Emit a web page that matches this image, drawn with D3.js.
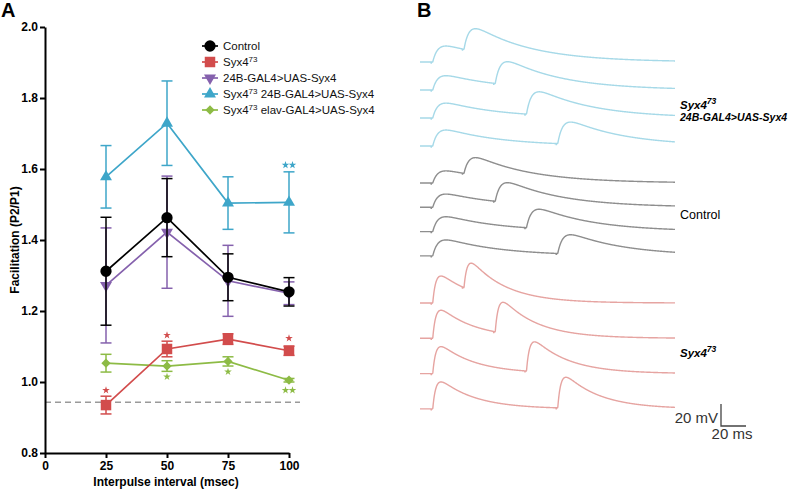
<!DOCTYPE html>
<html><head><meta charset="utf-8">
<script src="https://cdn.jsdelivr.net/npm/d3@7"></script>
<style>body{margin:0;background:#fff}svg{display:block;font-family:"Liberation Sans",Arial,sans-serif}</style>
</head><body><svg id="c" width="800" height="489"></svg>
<script>
// ---------- Panel A data ----------
const intervals = [25, 50, 75, 100];
const controlMean = [1.312, 1.463, 1.295, 1.254];
const controlErr  = [0.152, 0.110, 0.066, 0.040];
const syx4Mean    = [0.935, 1.093, 1.121, 1.088];
const syx4Err     = [0.025, 0.022, 0.015, 0.013];
const uasMean     = [1.272, 1.422, 1.285, 1.250];
const uasErr      = [0.162, 0.158, 0.100, 0.032];
const rescue24BMean = [1.578, 1.729, 1.504, 1.506];
const rescue24BErr  = [0.088, 0.119, 0.074, 0.086];
const rescueElavMean = [1.053, 1.045, 1.058, 1.005];
const rescueElavErr  = [0.025, 0.015, 0.013, 0.005];
const yTicks = [0.8, 1.0, 1.2, 1.4, 1.6, 1.8, 2.0];
const xTicks = [0, 25, 50, 75, 100];
const refLine = 0.943;
// significance marks: series index, interval, number of stars, value position
const sigSeries = [1, 1, 1, 4, 4, 4, 3];
const sigX      = [25, 50, 100, 50, 75, 100, 100];
const sigCount  = [1, 1, 1, 1, 1, 2, 2];
const sigY      = [0.977, 1.132, 1.123, 1.015, 1.029, 0.977, 1.611];

// ---------- Panel B data (EPSP amplitudes, mV) ----------
const traceIntervals = [25, 50, 75, 100];
const rescueP1 = [14.5, 13, 13.5, 14.5];
const rescueP2 = [21, 21, 21, 20];
const controlP1 = [11, 12, 13.5, 14.5];
const controlP2 = [16, 18, 17.5, 17.5];
const mutantP1 = [24.5, 25.5, 24.5, 24.5];
const mutantP2 = [25, 28, 27, 28];

const svg = d3.select("#c");

// ---------- Panel A ----------
const x = d3.scaleLinear().domain([0, 100]).range([45, 289]);
const y = d3.scaleLinear().domain([0.8, 2.0]).range([453, 27]);

const series = [
  {name: "Control", mean: controlMean, err: controlErr, color: "#000000", sym: "circle"},
  {name: "Syx4", sup: "73", rest: "", mean: syx4Mean, err: syx4Err, color: "#d24c4c", sym: "square"},
  {name: "24B-GAL4>UAS-Syx4", mean: uasMean, err: uasErr, color: "#8561ad", sym: "down"},
  {name: "Syx4", sup: "73", rest: " 24B-GAL4>UAS-Syx4", mean: rescue24BMean, err: rescue24BErr, color: "#3ea6c9", sym: "up"},
  {name: "Syx4", sup: "73", rest: " elav-GAL4>UAS-Syx4", mean: rescueElavMean, err: rescueElavErr, color: "#8dbb45", sym: "diamond"}
];

function symPath(s) {
  if (s === "circle") return d3.symbol(d3.symbolCircle, 100)();
  if (s === "square") return d3.symbol(d3.symbolSquare, 110)();
  if (s === "up" || s === "down") return d3.symbol(d3.symbolTriangle, 62)();
  return d3.symbol(d3.symbolDiamond2, 55)();
}
function symTransform(s, px, py) {
  return `translate(${px},${py})` + (s === "down" ? " rotate(180)" : "");
}

// reference dashed line
svg.append("line").attr("x1", x(0)).attr("x2", x(100) + 11)
  .attr("y1", y(refLine)).attr("y2", y(refLine))
  .attr("stroke", "#9a9a9a").attr("stroke-width", 1.6).attr("stroke-dasharray", "6,4");

const drawOrder = [2, 3, 4, 1, 0];
drawOrder.forEach(si => {
  const s = series[si];
  const g = svg.append("g");
  const pts = intervals.map((iv, i) => ({x: iv, m: s.mean[i], e: s.err[i]}));
  g.append("path").datum(pts)
    .attr("d", d3.line().x(d => x(d.x)).y(d => y(d.m)))
    .attr("fill", "none").attr("stroke", s.color).attr("stroke-width", 1.7);
  pts.forEach(d => {
    g.append("line").attr("x1", x(d.x)).attr("x2", x(d.x))
      .attr("y1", y(d.m + d.e)).attr("y2", y(d.m - d.e))
      .attr("stroke", s.color).attr("stroke-width", 1.5);
    [d.m + d.e, d.m - d.e].forEach(v => {
      g.append("line").attr("x1", x(d.x) - 5.5).attr("x2", x(d.x) + 5.5)
        .attr("y1", y(v)).attr("y2", y(v))
        .attr("stroke", s.color).attr("stroke-width", 1.5);
    });
    g.append("path").attr("d", symPath(s.sym))
      .attr("transform", symTransform(s.sym, x(d.x), y(d.m)))
      .attr("fill", s.color);
  });
});

// significance stars
sigSeries.forEach((si, k) => {
  const n = sigCount[k];
  for (let j = 0; j < n; j++) {
    const off = (j - (n - 1) / 2) * 7;
    svg.append("path").attr("d", d3.symbol(d3.symbolStar, 18)())
      .attr("transform", `translate(${x(sigX[k]) + off},${y(sigY[k])})`)
      .attr("fill", series[si].color);
  }
});

// axes
const yAxis = svg.append("g").attr("transform", `translate(${x(0)},0)`)
  .call(d3.axisLeft(y).tickValues(yTicks).tickFormat(d3.format(".1f")).tickSize(5).tickSizeOuter(0).tickPadding(2));
const xAxis = svg.append("g").attr("transform", `translate(0,${y(0.8)})`)
  .call(d3.axisBottom(x).tickValues(xTicks).tickSize(5).tickSizeOuter(0).tickPadding(3));
[yAxis, xAxis].forEach(a => {
  a.selectAll("path,line").attr("stroke", "#000").attr("stroke-width", 2);
  a.selectAll("text").attr("font-size", 12).attr("font-weight", "bold").attr("fill", "#000")
    .attr("font-family", '"Liberation Sans",Arial,sans-serif');
});

svg.append("text").attr("transform", `translate(19,${(y(0.8) + y(2.0)) / 2}) rotate(-90)`)
  .attr("text-anchor", "middle").attr("font-size", 12).attr("font-weight", "bold")
  .text("Facilitation (P2/P1)");
svg.append("text").attr("x", (x(0) + x(100)) / 2 - 1).attr("y", 486)
  .attr("text-anchor", "middle").attr("font-size", 12).attr("font-weight", "bold")
  .text("Interpulse interval (msec)");

// legend
series.forEach((s, i) => {
  const ly = 46 + i * 16;
  const g = svg.append("g");
  g.append("line").attr("x1", 202).attr("x2", 218).attr("y1", ly).attr("y2", ly)
    .attr("stroke", s.color).attr("stroke-width", 1.7);
  g.append("path").attr("d", symPath(s.sym))
    .attr("transform", symTransform(s.sym, 210, ly)).attr("fill", s.color);
  const t = g.append("text").attr("x", 223).attr("y", ly + 4).attr("font-size", 11.5).attr("fill", "#111");
  t.append("tspan").text(s.name);
  if (s.sup) {
    t.append("tspan").attr("dy", -4).attr("font-size", 8).text(s.sup);
    t.append("tspan").attr("dy", 4).text(s.rest);
  }
});

// panel letters
svg.append("text").attr("x", 1).attr("y", 17).attr("font-size", 20).attr("font-weight", "bold").text("A");
svg.append("text").attr("x", 417).attr("y", 17).attr("font-size", 20).attr("font-weight", "bold").text("B");

// ---------- Panel B ----------
const tScale = d3.scaleLinear().domain([0, 204]).range([420, 675]);
const vScale = d3.scaleLinear().domain([0, 20]).range([0, -22]);
const stim1 = 9, latency = 1.2;
function epsp(t, tr, td) {
  if (t <= 0) return 0;
  const tp = tr * td / (td - tr) * Math.log(td / tr);
  const pk = Math.exp(-tp / td) - Math.exp(-tp / tr);
  return (Math.exp(-t / td) - Math.exp(-t / tr)) / pk;
}
const groups = [
  {p1: rescueP1, p2: rescueP2, tr: 4, td: 45, color: "#a6d9e8", base0: 62, step: 28},
  {p1: controlP1, p2: controlP2, tr: 4, td: 45, color: "#8e8e8e", base0: 183, step: 24.3},
  {p1: mutantP1, p2: mutantP2, tr: 2.5, td: 28, color: "#e6a4a1", base0: 303, step: 35.3}
];
const times = d3.range(0, 204.001, 0.25);
groups.forEach(gr => {
  traceIntervals.forEach((iv, i) => {
    const stim2 = stim1 + iv;
    const base = gr.base0 + i * gr.step;
    const pts = times.map(t => {
      let v = gr.p1[i] * epsp(t - stim1 - latency, gr.tr, gr.td)
            + gr.p2[i] * epsp(t - stim2 - latency, gr.tr, gr.td);
      if (Math.abs(t - stim1) < 0.2 || Math.abs(t - stim2) < 0.2) v -= 1.4;
      return [t, v];
    });
    svg.append("path").datum(pts)
      .attr("d", d3.line().x(d => tScale(d[0])).y(d => base + vScale(d[1])))
      .attr("fill", "none").attr("stroke", gr.color).attr("stroke-width", 1.4);
  });
});

// trace labels
function supLabel(xp, yp) {
  const t = svg.append("text").attr("x", xp).attr("y", yp).attr("font-size", 11.5)
    .attr("font-weight", "bold").attr("font-style", "italic");
  t.append("tspan").text("Syx4");
  t.append("tspan").attr("dy", -5).attr("font-size", 8.5).text("73");
  return t;
}
supLabel(680, 109);
svg.append("text").attr("x", 680).attr("y", 121).attr("font-size", 10.5)
  .attr("font-weight", "bold").attr("font-style", "italic").text("24B-GAL4>UAS-Syx4");
svg.append("text").attr("x", 680).attr("y", 219).attr("font-size", 12.5).text("Control");
supLabel(680, 357);

// scale bar
const sbX = 721, sbY = 426;
svg.append("path")
  .attr("d", `M${sbX},${sbY + vScale(20)}V${sbY}H${sbX + tScale(20) - tScale(0)}`)
  .attr("fill", "none").attr("stroke", "#444").attr("stroke-width", 1.3);
svg.append("text").attr("x", 718).attr("y", 423).attr("text-anchor", "end")
  .attr("font-size", 15).attr("fill", "#333").text("20 mV");
svg.append("text").attr("x", 732).attr("y", 439).attr("text-anchor", "middle")
  .attr("font-size", 15).attr("fill", "#333").text("20 ms");
</script></body></html>
